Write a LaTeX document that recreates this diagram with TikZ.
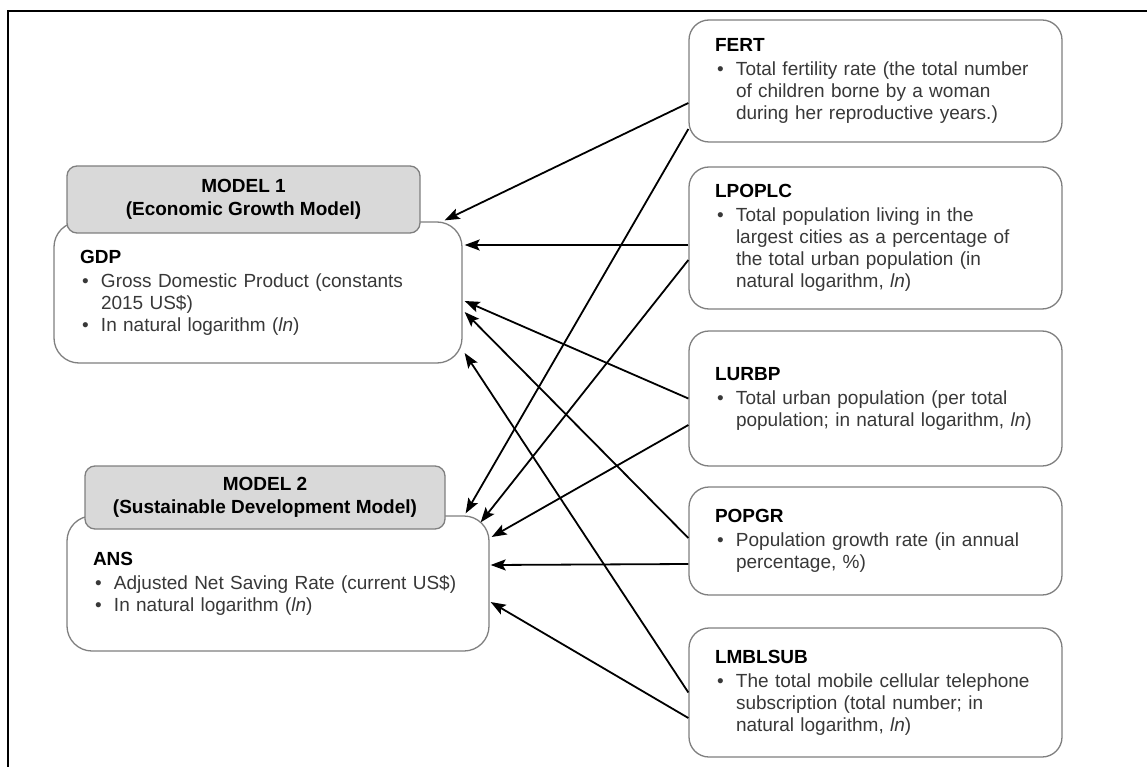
\documentclass[tikz,border=0pt]{standalone}
\usepackage{fontspec}
\setmainfont{Liberation Sans}
\usetikzlibrary{arrows.meta,calc}
\definecolor{boxline}{HTML}{7F7F7F}
\definecolor{hdrfill}{HTML}{D9D9D9}
\definecolor{txtgray}{HTML}{383838}
\newcommand{\bul}{\makebox[21pt][l]{\hspace{2pt}\textbullet}}
\newcommand{\hng}{\hspace*{21pt}}
\newcommand{\vname}[1]{{\color{black}\bfseries #1}\\[2pt]}

\begin{document}
\begin{tikzpicture}[x=1pt,y=-1pt,
    varbox/.style={draw=boxline,line width=1.3pt,rounded corners=20pt,fill=white,
      inner xsep=26pt,inner ysep=0pt,align=left,text=txtgray,
      font=\fontsize{19}{22}\selectfont},
    hdr/.style={draw=boxline,line width=1.3pt,rounded corners=10pt,fill=hdrfill,
      inner sep=0pt,align=center,font=\fontsize{19}{23}\selectfont\bfseries},
    arr/.style={-{Stealth[length=15pt,width=11pt,inset=3pt]},line width=1.8pt}]
  \useasboundingbox (0,0) rectangle (1147,767);
  \draw[line width=2pt] (8,767) -- (8,11) -- (1147,11);

  % the two models
  \node[varbox,text width=356pt,minimum height=141pt,rounded corners=25pt] (gdp) at (258,292.5)
    {\vname{GDP}
     \bul Gross Domestic Product (constants\\
     \hng 2015 US\$)\\
     \bul In natural logarithm (\textit{ln})};
  \node[hdr,minimum width=353pt,minimum height=67pt] (m1) at (243.5,199.5)
    {MODEL 1\\(Economic Growth Model)};
  \node[varbox,text width=370pt,minimum height=135pt,rounded corners=25pt] (ans) at (278,583.5)
    {\vname{ANS}
     \bul Adjusted Net Saving Rate (current US\$)\\
     \bul In natural logarithm (\textit{ln})};
  \node[hdr,minimum width=360pt,minimum height=63pt] (m2) at (265,497.5)
    {MODEL 2\\(Sustainable Development Model)};

  % the variables
  \node[varbox,text width=321pt,minimum height=122pt] (fert) at (875.5,81)
    {\vname{FERT}
     \bul Total fertility rate (the total number\\
     \hng of children borne by a woman\\
     \hng during her reproductive years.)};
  \node[varbox,text width=321pt,minimum height=142pt] (lpoplc) at (875.5,238)
    {\vname{LPOPLC}
     \bul Total population living in the\\
     \hng largest cities as a percentage of\\
     \hng the total urban population (in\\
     \hng natural logarithm, \textit{ln})};
  \node[varbox,text width=321pt,minimum height=135pt] (lurbp) at (875.5,398.5)
    {\vname{LURBP}
     \bul Total urban population (per total\\
     \hng population; in natural logarithm, \textit{ln})};
  \node[varbox,text width=321pt,minimum height=108pt] (popgr) at (875.5,541)
    {\vname{POPGR}
     \bul Population growth rate (in annual\\
     \hng percentage, \%)};
  \node[varbox,text width=321pt,minimum height=129pt] (lmblsub) at (875.5,692.5)
    {\vname{LMBLSUB}
     \bul The total mobile cellular telephone\\
     \hng subscription (total number; in\\
     \hng natural logarithm, \textit{ln})};

  % links
  \draw[arr] ($(fert.west)+(0,22)$) -- ($(gdp.north east)+(-18,-1)$);
  \draw[arr] ($(fert.west)+(0,48)$) -- ($(ans.north east)+(-24,-2)$);
  \draw[arr] ($(lpoplc.west)+(0,7)$) -- ($(gdp.east)+(2,-47.5)$);
  \draw[arr] ($(lpoplc.west)+(0,22)$) -- ($(ans.north east)+(-9,7)$);
  \draw[arr] ($(lurbp.west)+(0,0)$) -- ($(gdp.east)+(2,8.5)$);
  \draw[arr] ($(lurbp.west)+(0,26.5)$) -- ($(ans.east)+(2,-46.5)$);
  \draw[arr] ($(popgr.west)+(0,-3)$) -- ($(gdp.east)+(2,19.5)$);
  \draw[arr] ($(popgr.west)+(0,23)$) -- ($(ans.east)+(1,-18.5)$);
  \draw[arr] ($(lmblsub.west)+(0,0)$) -- ($(gdp.east)+(2,60.5)$);
  \draw[arr] ($(lmblsub.west)+(0,25.5)$) -- ($(ans.east)+(1,18.5)$);
\end{tikzpicture}
\end{document}
